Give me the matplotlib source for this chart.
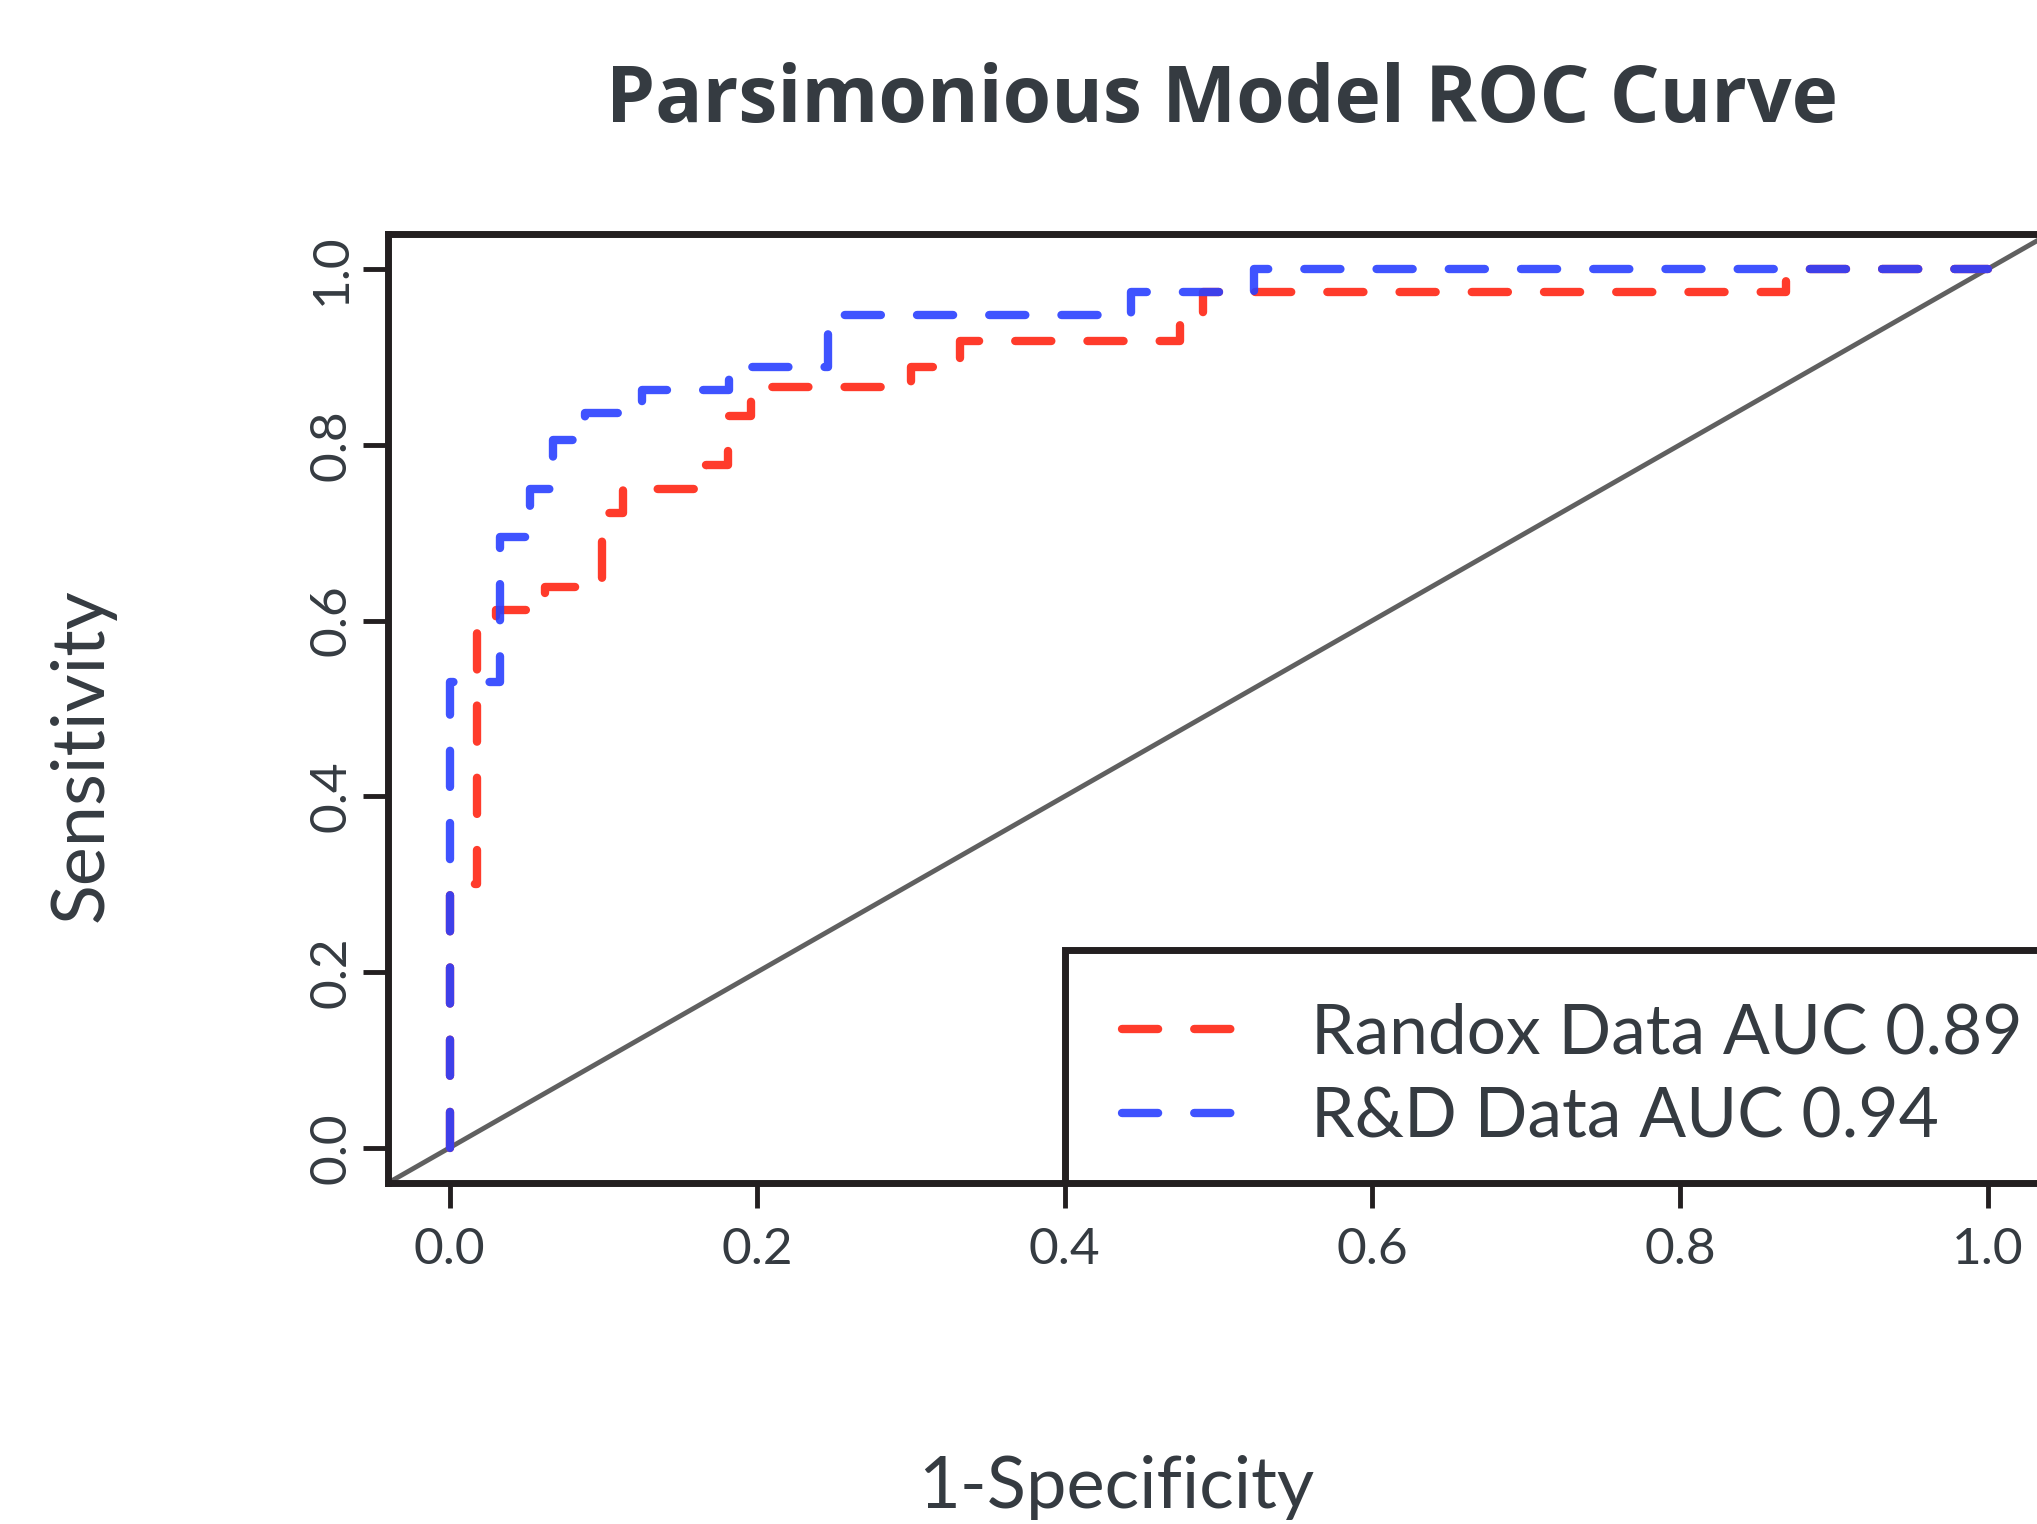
import matplotlib
matplotlib.use("Agg")
import matplotlib.pyplot as plt
from matplotlib.patches import Rectangle

plt.rcParams["font.family"] = ["Lato", "DejaVu Sans"]
plt.rcParams["lines.scale_dashes"] = False

# ROC step corners (fpr, tpr)
randox_fpr = [0, 0.018, 0.030, 0.062, 0.099, 0.113, 0.167, 0.181, 0.196,
              0.300, 0.332, 0.475, 0.490, 0.869, 1.0]
randox_tpr = [0, 0.300, 0.586, 0.612, 0.638, 0.722, 0.750, 0.777, 0.833,
              0.866, 0.889, 0.918, 0.948, 0.974, 1.0]

rnd_fpr = [0, 0.033, 0.052, 0.067, 0.088, 0.125, 0.182, 0.246, 0.443, 0.523, 1.0]
rnd_tpr = [0, 0.530, 0.695, 0.750, 0.805, 0.836, 0.862, 0.889, 0.948, 0.974, 1.0]

labels = ["Randox Data AUC 0.89", "R&D Data AUC 0.94"]
ticks = [0.0, 0.2, 0.4, 0.6, 0.8, 1.0]
tick_labels = ["0.0", "0.2", "0.4", "0.6", "0.8", "1.0"]

TEXT = "#353b41"
FRAME = "#231f20"
RED = "#ff3b2b"
BLUE = "#2a40ff"

fig = plt.figure(figsize=(20.37, 15.24), dpi=100)
ax = fig.add_axes([0.1905, 0.2238, 0.8154, 0.6227])

dash = (0, (26, 26))
ax.axline((0, 0), (1, 1), color="#606060", lw=3.5, zorder=1)
l1, = ax.plot(randox_fpr, randox_tpr, drawstyle="steps-pre", color=RED, lw=6,
              linestyle=dash, dash_capstyle="round", zorder=2)
l2, = ax.plot(rnd_fpr, rnd_tpr, drawstyle="steps-pre", color=BLUE, lw=6,
              linestyle=dash, dash_capstyle="round", alpha=0.9, zorder=3)

ax.set_xlim(-0.04, 1.04)
ax.set_ylim(-0.04, 1.04)
ax.set_xticks(ticks)
ax.set_xticklabels(tick_labels)
ax.set_yticks(ticks)
ax.set_yticklabels(tick_labels, rotation=90, va="center")
ax.tick_params(axis="both", length=18, width=3.5, color=FRAME,
               labelsize=37, labelcolor=TEXT)
ax.tick_params(axis="x", pad=14)
ax.tick_params(axis="y", pad=6)
for sp in ax.spines.values():
    sp.set_linewidth(5)
    sp.set_color(FRAME)

# legend box, drawn R style from x = 0.4 to past the right edge
ax.add_patch(Rectangle((0.4, -0.04), 1.0, 0.265, facecolor="white",
                       edgecolor=FRAME, lw=5, zorder=4))
leg = ax.legend([l1, l2], labels, loc="upper left",
                bbox_to_anchor=(0.5508, 0.342), bbox_transform=fig.transFigure,
                frameon=False, fontsize=50, labelcolor=TEXT,
                handlelength=1.67, handletextpad=1.05, labelspacing=0.3,
                borderpad=0, borderaxespad=0)
leg.set_zorder(5)

fig.text(0.600, 0.920, "Parsimonious Model ROC Curve", ha="center",
         va="baseline", fontsize=56.5, fontweight="bold", color=TEXT,
         family=["Open Sans", "Lato", "DejaVu Sans"])
fig.text(0.0403, 0.5046, "Sensitivity", rotation=90, ha="center",
         va="center", fontsize=53, color=TEXT)
fig.text(0.548, 0.0105, "1-Specificity", ha="center", va="baseline",
         fontsize=52, color=TEXT)

fig.savefig("out.png", dpi=100)
